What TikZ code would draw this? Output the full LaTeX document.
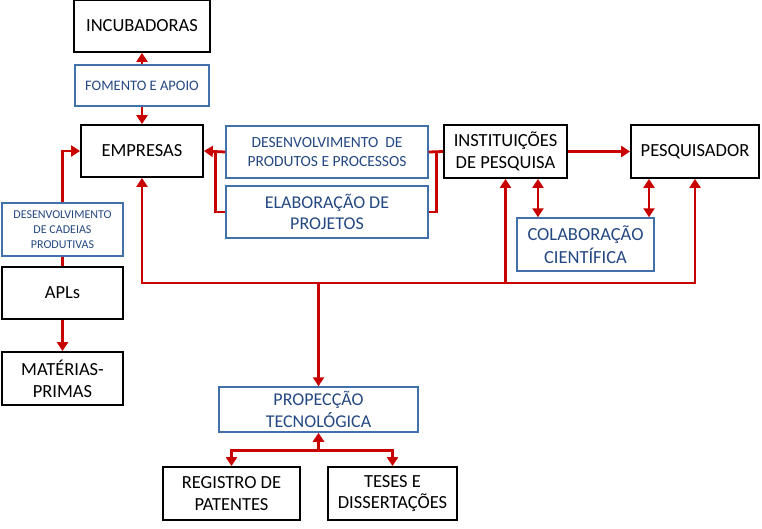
\documentclass[tikz,border=0pt]{standalone}
\usepackage{fontspec}
\setmainfont{Carlito}
\usetikzlibrary{arrows.meta}
\definecolor{rd}{RGB}{200,0,0}
\definecolor{bbord}{RGB}{65,113,170}
\definecolor{btext}{RGB}{36,72,130}
\tikzset{
  bk/.style={draw=black, line width=1.8pt, align=center, inner sep=0pt, font=\fontsize{18.5}{21.7}\selectfont},
  bl/.style={draw=bbord, line width=1.5pt, align=center, inner sep=0pt, text=btext, font=\fontsize{18}{21.7}\selectfont},
  rl/.style={draw=rd, line width=2.8pt},
  tip/.tip={Triangle[length=9pt,width=11pt]},
  ar/.style={rl, -tip},
  ab/.style={rl, tip-tip},
}
\begin{document}
\begin{tikzpicture}[x=1pt,y=-1pt]
\useasboundingbox (0,0) rectangle (762,528);
\node[bk, minimum width=136, minimum height=52] (inc) at (142,26) {INCUBADORAS};
\node[bl, minimum width=134, minimum height=41, font=\fontsize{14.5}{17}\selectfont] (fom) at (142,85.5) {FOMENTO E APOIO};
\node[bk, minimum width=122, minimum height=52] (emp) at (142,151) {EMPRESAS};
\node[bl, minimum width=121, minimum height=53, font=\fontsize{12}{15}\selectfont] (cad) at (62.5,229.5) {DESENVOLVIMENTO\\DE CADEIAS\\PRODUTIVAS};
\node[bk, minimum width=121, minimum height=52] (apl) at (62.5,293) {APLs};
\node[bk, minimum width=121, minimum height=53] (mat) at (62.5,378.5) {MATÉRIAS-\\PRIMAS};
\node[bl, minimum width=202, minimum height=52, font=\fontsize{15.5}{18.7}\selectfont] (dpp) at (327,152) {DESENVOLVIMENTO~ DE\\PRODUTOS E PROCESSOS};
\node[bl, minimum width=202, minimum height=52] (elab) at (327,212) {ELABORAÇÃO DE\\PROJETOS};
\node[bk, minimum width=123, minimum height=53] (inst) at (505.5,151.5) {INSTITUIÇÕES\\DE PESQUISA};
\node[bk, minimum width=128, minimum height=53] (pesq) at (695,151.5) {PESQUISADOR};
\node[bl, minimum width=137, minimum height=53, font=\fontsize{18.5}{22.7}\selectfont] (colab) at (585.5,244.5) {COLABORAÇÃO\\CIENTÍFICA};
\node[bl, minimum width=199, minimum height=45] (prop) at (318.5,409.5) {PROPECÇÃO\\TECNOLÓGICA};
\node[bk, minimum width=137, minimum height=53] (reg) at (231.5,493.5) {REGISTRO DE\\PATENTES};
\node[bk, minimum width=129, minimum height=53] (tes) at (392.5,493.5) {TESES E\\DISSERTAÇÕES};
\coordinate (busy) at (0,283);
% incubadoras / fomento
\draw[ar] (fom.north) -- (inc.south);
\draw[ar] (fom.south) -- (emp.north);
% cadeias / APLs
\draw[ar] (cad.north) |- (emp.west);
\draw[rl] (apl.north) -- (cad.south);
\draw[ar] (apl.south) -- (mat.north);
% produtos / projetos
\draw[ar] (dpp.west) -- (emp.east);
\draw[rl] (elab.west) -- ++(-10,0) |- (dpp.west);
\draw[rl] (inst.west) -- (dpp.east);
\draw[rl] (elab.east) -- ++(8,0) |- (dpp.east);
% instituicoes / pesquisador
\draw[ar] (inst.east) -- (pesq.west);
\draw[ab] ([xshift=32.5pt]inst.south) -- ([xshift=32.5pt]inst.south |- colab.north);
\draw[ab] ([xshift=-46pt]pesq.south) -- ([xshift=-46pt]pesq.south |- colab.north);
% bus
\draw[ab] (emp.south) |- (busy -| pesq.south) -- (pesq.south);
\draw[ar] (inst.south |- busy) -- (inst.south);
\draw[ar] (prop.north |- busy) -- (prop.north);
% propeccao
\coordinate (br) at ([yshift=-18pt]prop.south);
\draw[ar] (br) -- (prop.south);
\draw[ab] (reg.north) |- (br) -| (tes.north);
\end{tikzpicture}
\end{document}
